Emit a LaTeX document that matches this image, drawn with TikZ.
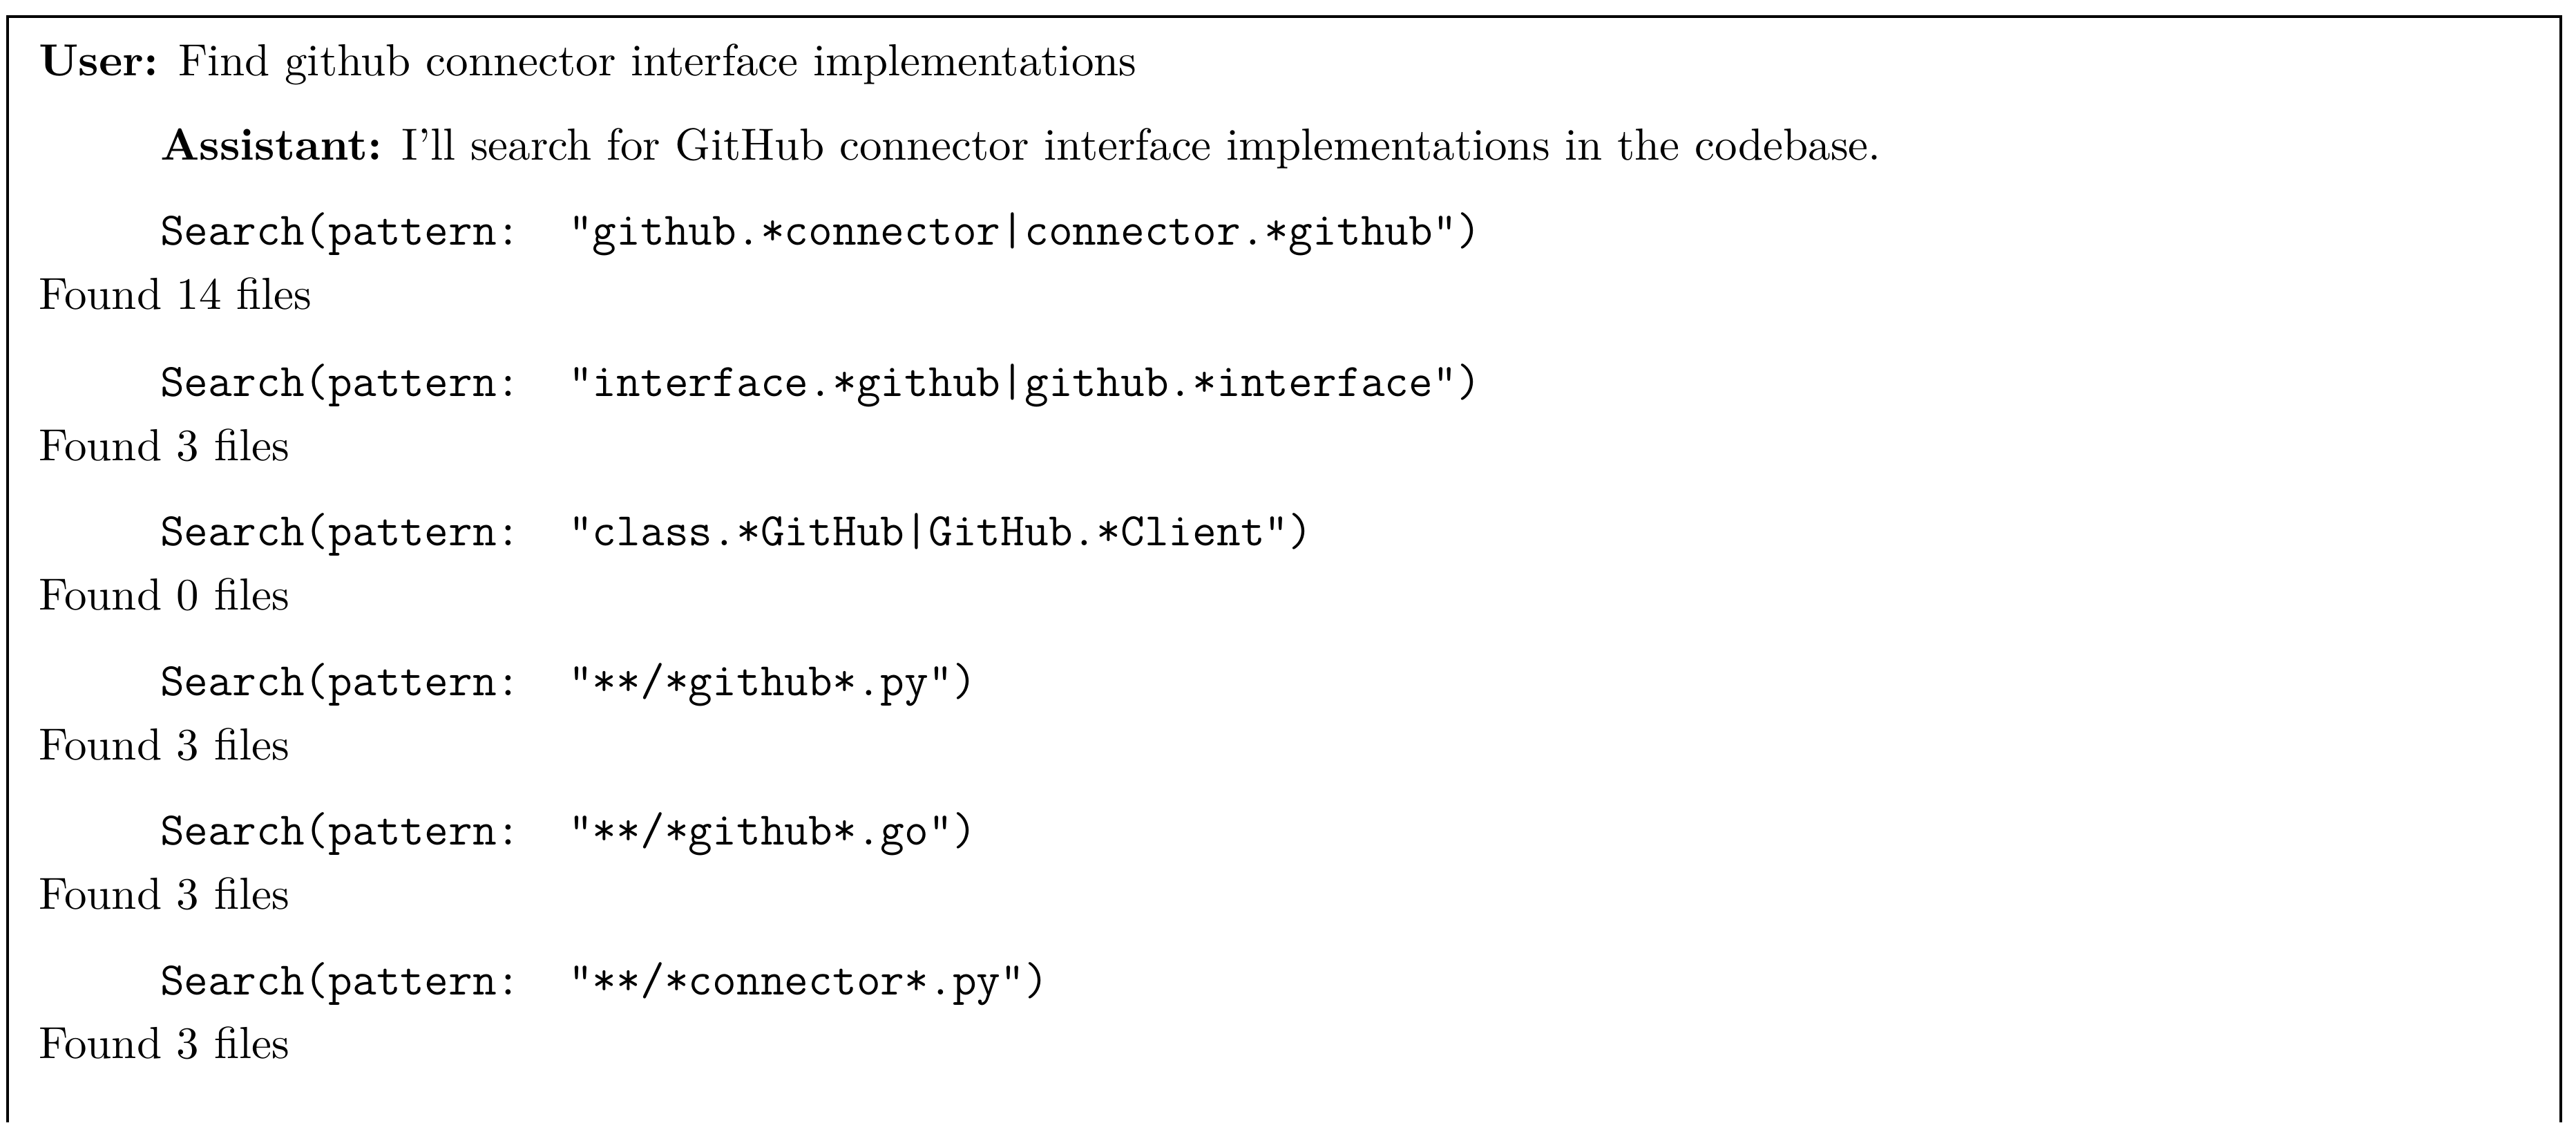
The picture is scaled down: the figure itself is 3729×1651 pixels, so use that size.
\documentclass[tikz,border=0pt]{standalone}
\begin{document}
\begin{tikzpicture}[x=0.163pt,y=-0.163pt,
  txt/.style={anchor=base west,inner sep=0pt,font=\fontsize{10.6}{12}\selectfont},
  code/.style={anchor=base west,inner sep=0pt,font=\fontsize{11}{12}\selectfont\ttfamily}]
\useasboundingbox (0,0) rectangle (3729,1651);
\draw[line width=0.8pt] (11,1624) -- (11,24) -- (3707,24) -- (3707,1624);
\node[txt] (u) at (55,109) {\textbf{User:} Find github connector interface implementations};
\node[txt] (a) at (231,231) {\textbf{Assistant:} I'll search for GitHub connector interface implementations in the codebase.};
\node[code] (s1) at (231,354) {Search(pattern:\ \ "github.*connector|connector.*github")};
\node[txt] (f1) at (55,447) {Found 14 files};
\node[code] (s2) at (231,573) {Search(pattern:\ \ "interface.*github|github.*interface")};
\node[txt] (f2) at (55,666) {Found 3 files};
\node[code] (s3) at (231,789) {Search(pattern:\ \ "class.*GitHub|GitHub.*Client")};
\node[txt] (f3) at (55,882) {Found 0 files};
\node[code] (s4) at (231,1006) {Search(pattern:\ \ "**/*github*.py")};
\node[txt] (f4) at (55,1099) {Found 3 files};
\node[code] (s5) at (231,1222) {Search(pattern:\ \ "**/*github*.go")};
\node[txt] (f5) at (55,1315) {Found 3 files};
\node[code] (s6) at (231,1439) {Search(pattern:\ \ "**/*connector*.py")};
\node[txt] (f6) at (55,1531) {Found 3 files};
\end{tikzpicture}
\end{document}
